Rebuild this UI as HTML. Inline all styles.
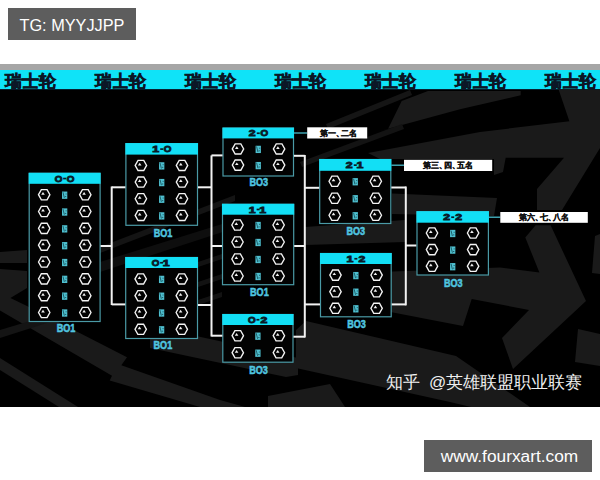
<!DOCTYPE html>
<html><head><meta charset="utf-8"><style>
html,body{margin:0;padding:0;background:#fff;width:600px;height:480px;overflow:hidden;position:relative;font-family:"Liberation Sans",sans-serif;}
.tg{position:absolute;left:8px;top:8px;width:128px;height:32px;background:#5d5d5d;color:#fff;font-size:16.3px;line-height:35px;text-align:center;white-space:nowrap;}
.wm{position:absolute;left:424px;top:440px;width:168px;height:32px;background:#5d5d5d;color:#fff;font-size:17.3px;line-height:32px;text-align:center;text-indent:3px;white-space:nowrap;}
.img{position:absolute;left:0;top:64px;width:600px;height:343.4px;background:#000;overflow:hidden;}
.strip{position:absolute;left:0;top:0;width:600px;height:6px;background:#a6a6a6;}
.band{position:absolute;left:0;top:6px;width:600px;height:19px;background:#0fe3f8;border-bottom:1px solid #062030;}
.band span{position:absolute;top:1px;font-size:16.5px;line-height:20px;font-weight:900;color:#0b1726;-webkit-text-stroke:0.6px #0b1726;white-space:nowrap;}
svg{position:absolute;left:0;top:0;}
.hd{font-family:"Liberation Sans",sans-serif;font-weight:bold;font-size:8.2px;fill:#0a1a28;stroke:#0a1a28;stroke-width:0.8px;}
.bo{font-family:"Liberation Sans",sans-serif;font-weight:bold;font-size:10.3px;fill:#50c6e0;stroke:#50c6e0;stroke-width:0.5px;}
.vs{font-family:"Liberation Sans",sans-serif;font-weight:bold;font-size:11px;fill:#3cc4dc;stroke:#3cc4dc;stroke-width:0.9px;}
.lb{font-weight:bold;font-size:8.2px;fill:#111;stroke:#111;stroke-width:0.25px;font-feature-settings:"palt";}
.zh{position:absolute;left:386px;top:371px;font-size:17px;color:#f0f0f0;white-space:nowrap;}
</style></head><body>
<div class="tg">TG: MYYJJPP</div>
<div class="img">
<div class="strip"></div>
<div class="band"><span style="left:5px">瑞士轮</span><span style="left:95px">瑞士轮</span><span style="left:185px">瑞士轮</span><span style="left:275px">瑞士轮</span><span style="left:365px">瑞士轮</span><span style="left:455px">瑞士轮</span><span style="left:545px">瑞士轮</span></div>
</div>
<svg width="600" height="480" viewBox="0 0 600 480">
<polygon points="0.0,358.0 78.0,407.0 59.0,407.0 0.0,370.0" fill="#1a1a1a"/>
<polygon points="0.0,269.0 27.0,271.0 27.0,288.0 10.4,298.0 27.0,306.0 127.0,357.2 121.3,365.3 220.0,400.0 245.0,407.0 200.0,407.0 109.7,380.5 112.0,375.8 0.0,310.5" fill="#1a1a1a"/>
<polygon points="0.0,252.0 27.0,250.0 27.0,263.0 0.0,263.0" fill="#1a1a1a"/>
<polygon points="150.0,326.0 298.0,358.0 298.0,375.0 286.0,377.0 150.0,348.0" fill="#1a1a1a"/>
<polygon points="268.0,396.0 330.0,384.0 345.0,407.0 268.0,407.0" fill="#1a1a1a"/>
<polygon points="306.0,321.0 456.0,356.0 530.0,407.0 471.0,407.0 450.0,402.0 296.0,368.0 296.0,330.0" fill="#1a1a1a"/>
<polygon points="595.0,236.0 600.0,234.0 600.0,274.0 592.0,273.0" fill="#1a1a1a"/>
<polygon points="578.0,329.0 600.0,334.0 600.0,366.0 575.0,362.0" fill="#1a1a1a"/>
<polygon points="380.0,272.0 500.0,267.5 539.4,272.5 525.3,237.5 535.6,225.3 550.6,225.3 586.0,301.0 513.0,369.0 502.0,338.0 529.0,310.0 471.7,299.0 463.0,326.0 380.0,310.0" fill="#1a1a1a"/>
<polygon points="305.0,227.0 405.0,220.0 405.0,242.0 305.0,245.0" fill="#1a1a1a"/>
<polygon points="392.0,193.5 497.0,198.0 494.0,216.0 392.0,214.0" fill="#1a1a1a"/>
<polygon points="368.0,153.0 480.0,132.0 569.4,121.2 558.6,89.5 600.0,89.5 600.0,148.0 562.0,210.0 537.0,210.0 537.0,189.0 564.0,157.8 505.7,157.8 503.0,172.0 494.0,175.0 494.0,159.0 380.0,159.0" fill="#1a1a1a"/>
<polygon points="401.7,101.0 428.0,91.0 520.7,91.0 520.7,95.3 460.0,109.3 380.0,131.0 388.0,129.0" fill="#1a1a1a"/>
<polygon points="198.0,300.0 222.0,292.0 222.0,297.0 198.0,305.0" fill="#121212"/>
<polygon points="198.0,282.0 222.0,274.0 222.0,279.0 198.0,287.0" fill="#121212"/>
<polygon points="198.0,262.0 222.0,254.0 222.0,259.0 198.0,267.0" fill="#121212"/>
<polygon points="0.0,330.0 100.0,300.0 100.0,306.0 0.0,338.0" fill="#141414"/>
<polygon points="100.0,262.0 235.0,220.0 235.0,228.0 100.0,272.0" fill="#0e0e0e"/>
<polygon points="100.0,247.0 235.0,195.0 235.0,201.0 100.0,253.0" fill="#141414"/>
<polygon points="300.0,162.0 402.0,124.0 404.0,129.0 302.0,167.0" fill="#131313"/>
<polygon points="326.0,124.0 410.0,90.0 412.0,95.0 328.0,129.0" fill="#151515"/>
<rect x="29.20" y="173.30" width="70.90" height="148.20" fill="#020202" stroke="#4a9aa6" stroke-width="1.2"/>
<rect x="28.70" y="172.80" width="71.90" height="11.00" fill="#12dff5"/>
<text x="58.65" y="181.70" class="hd" text-anchor="middle" transform="translate(58.65,0) scale(1.2,1) translate(-58.65,0)">O</text>
<text x="70.65" y="181.70" class="hd" text-anchor="middle" transform="translate(70.65,0) scale(1.2,1) translate(-70.65,0)">O</text>
<rect x="63.15" y="177.70" width="3" height="1.7" fill="#0a1a28"/>
<polygon points="38.50,194.70 41.35,189.60 47.05,189.60 49.90,194.70 47.05,199.80 41.35,199.80" fill="none" stroke="#f4f4f4" stroke-width="1.35"/><polygon points="41.20,194.70 43.00,192.00 44.80,194.70" fill="#f0f0f0"/>
<polygon points="79.60,194.70 82.45,189.60 88.15,189.60 91.00,194.70 88.15,199.80 82.45,199.80" fill="none" stroke="#f4f4f4" stroke-width="1.35"/><polygon points="82.30,194.70 84.10,192.00 85.90,194.70" fill="#f0f0f0"/>
<rect x="62.00" y="191.55" width="5.3" height="7.3" fill="#4fc0d0"/><path d="M62.95,192.20 L64.35,197.80 M66.65,194.00 H65.55 M64.95,196.60 H66.25" stroke="#124850" stroke-width="0.8" fill="none"/>
<polygon points="38.50,211.53 41.35,206.43 47.05,206.43 49.90,211.53 47.05,216.63 41.35,216.63" fill="none" stroke="#f4f4f4" stroke-width="1.35"/><polygon points="41.20,211.53 43.00,208.83 44.80,211.53" fill="#f0f0f0"/>
<polygon points="79.60,211.53 82.45,206.43 88.15,206.43 91.00,211.53 88.15,216.63 82.45,216.63" fill="none" stroke="#f4f4f4" stroke-width="1.35"/><polygon points="82.30,211.53 84.10,208.83 85.90,211.53" fill="#f0f0f0"/>
<rect x="62.00" y="208.38" width="5.3" height="7.3" fill="#4fc0d0"/><path d="M62.95,209.03 L64.35,214.63 M66.65,210.83 H65.55 M64.95,213.43 H66.25" stroke="#124850" stroke-width="0.8" fill="none"/>
<polygon points="38.50,228.36 41.35,223.26 47.05,223.26 49.90,228.36 47.05,233.46 41.35,233.46" fill="none" stroke="#f4f4f4" stroke-width="1.35"/><polygon points="41.20,228.36 43.00,225.66 44.80,228.36" fill="#f0f0f0"/>
<polygon points="79.60,228.36 82.45,223.26 88.15,223.26 91.00,228.36 88.15,233.46 82.45,233.46" fill="none" stroke="#f4f4f4" stroke-width="1.35"/><polygon points="82.30,228.36 84.10,225.66 85.90,228.36" fill="#f0f0f0"/>
<rect x="62.00" y="225.21" width="5.3" height="7.3" fill="#4fc0d0"/><path d="M62.95,225.86 L64.35,231.46 M66.65,227.66 H65.55 M64.95,230.26 H66.25" stroke="#124850" stroke-width="0.8" fill="none"/>
<polygon points="38.50,245.19 41.35,240.09 47.05,240.09 49.90,245.19 47.05,250.29 41.35,250.29" fill="none" stroke="#f4f4f4" stroke-width="1.35"/><polygon points="41.20,245.19 43.00,242.49 44.80,245.19" fill="#f0f0f0"/>
<polygon points="79.60,245.19 82.45,240.09 88.15,240.09 91.00,245.19 88.15,250.29 82.45,250.29" fill="none" stroke="#f4f4f4" stroke-width="1.35"/><polygon points="82.30,245.19 84.10,242.49 85.90,245.19" fill="#f0f0f0"/>
<rect x="62.00" y="242.04" width="5.3" height="7.3" fill="#4fc0d0"/><path d="M62.95,242.69 L64.35,248.29 M66.65,244.49 H65.55 M64.95,247.09 H66.25" stroke="#124850" stroke-width="0.8" fill="none"/>
<polygon points="38.50,262.02 41.35,256.92 47.05,256.92 49.90,262.02 47.05,267.12 41.35,267.12" fill="none" stroke="#f4f4f4" stroke-width="1.35"/><polygon points="41.20,262.02 43.00,259.32 44.80,262.02" fill="#f0f0f0"/>
<polygon points="79.60,262.02 82.45,256.92 88.15,256.92 91.00,262.02 88.15,267.12 82.45,267.12" fill="none" stroke="#f4f4f4" stroke-width="1.35"/><polygon points="82.30,262.02 84.10,259.32 85.90,262.02" fill="#f0f0f0"/>
<rect x="62.00" y="258.87" width="5.3" height="7.3" fill="#4fc0d0"/><path d="M62.95,259.52 L64.35,265.12 M66.65,261.32 H65.55 M64.95,263.92 H66.25" stroke="#124850" stroke-width="0.8" fill="none"/>
<polygon points="38.50,278.85 41.35,273.75 47.05,273.75 49.90,278.85 47.05,283.95 41.35,283.95" fill="none" stroke="#f4f4f4" stroke-width="1.35"/><polygon points="41.20,278.85 43.00,276.15 44.80,278.85" fill="#f0f0f0"/>
<polygon points="79.60,278.85 82.45,273.75 88.15,273.75 91.00,278.85 88.15,283.95 82.45,283.95" fill="none" stroke="#f4f4f4" stroke-width="1.35"/><polygon points="82.30,278.85 84.10,276.15 85.90,278.85" fill="#f0f0f0"/>
<rect x="62.00" y="275.70" width="5.3" height="7.3" fill="#4fc0d0"/><path d="M62.95,276.35 L64.35,281.95 M66.65,278.15 H65.55 M64.95,280.75 H66.25" stroke="#124850" stroke-width="0.8" fill="none"/>
<polygon points="38.50,295.68 41.35,290.58 47.05,290.58 49.90,295.68 47.05,300.78 41.35,300.78" fill="none" stroke="#f4f4f4" stroke-width="1.35"/><polygon points="41.20,295.68 43.00,292.98 44.80,295.68" fill="#f0f0f0"/>
<polygon points="79.60,295.68 82.45,290.58 88.15,290.58 91.00,295.68 88.15,300.78 82.45,300.78" fill="none" stroke="#f4f4f4" stroke-width="1.35"/><polygon points="82.30,295.68 84.10,292.98 85.90,295.68" fill="#f0f0f0"/>
<rect x="62.00" y="292.53" width="5.3" height="7.3" fill="#4fc0d0"/><path d="M62.95,293.18 L64.35,298.78 M66.65,294.98 H65.55 M64.95,297.58 H66.25" stroke="#124850" stroke-width="0.8" fill="none"/>
<polygon points="38.50,312.51 41.35,307.41 47.05,307.41 49.90,312.51 47.05,317.61 41.35,317.61" fill="none" stroke="#f4f4f4" stroke-width="1.35"/><polygon points="41.20,312.51 43.00,309.81 44.80,312.51" fill="#f0f0f0"/>
<polygon points="79.60,312.51 82.45,307.41 88.15,307.41 91.00,312.51 88.15,317.61 82.45,317.61" fill="none" stroke="#f4f4f4" stroke-width="1.35"/><polygon points="82.30,312.51 84.10,309.81 85.90,312.51" fill="#f0f0f0"/>
<rect x="62.00" y="309.36" width="5.3" height="7.3" fill="#4fc0d0"/><path d="M62.95,310.01 L64.35,315.61 M66.65,311.81 H65.55 M64.95,314.41 H66.25" stroke="#124850" stroke-width="0.8" fill="none"/>
<text x="65.95" y="332.30" class="bo" text-anchor="middle" transform="translate(65.95,0) scale(0.88,1) translate(-65.95,0)">BO1</text>
<rect x="125.90" y="143.60" width="71.60" height="81.70" fill="#020202" stroke="#4a9aa6" stroke-width="1.2"/>
<rect x="125.40" y="143.10" width="72.60" height="11.50" fill="#12dff5"/>
<text x="155.70" y="152.25" class="hd" text-anchor="middle" transform="translate(155.70,0) scale(1.5,1) translate(-155.70,0)">1</text>
<text x="167.70" y="152.25" class="hd" text-anchor="middle" transform="translate(167.70,0) scale(1.2,1) translate(-167.70,0)">O</text>
<rect x="160.20" y="148.25" width="3" height="1.7" fill="#0a1a28"/>
<polygon points="135.20,165.40 138.05,160.30 143.75,160.30 146.60,165.40 143.75,170.50 138.05,170.50" fill="none" stroke="#f4f4f4" stroke-width="1.35"/><polygon points="137.90,165.40 139.70,162.70 141.50,165.40" fill="#f0f0f0"/>
<polygon points="176.30,165.40 179.15,160.30 184.85,160.30 187.70,165.40 184.85,170.50 179.15,170.50" fill="none" stroke="#f4f4f4" stroke-width="1.35"/><polygon points="179.00,165.40 180.80,162.70 182.60,165.40" fill="#f0f0f0"/>
<rect x="159.05" y="162.25" width="5.3" height="7.3" fill="#4fc0d0"/><path d="M160.00,162.90 L161.40,168.50 M163.70,164.70 H162.60 M162.00,167.30 H163.30" stroke="#124850" stroke-width="0.8" fill="none"/>
<polygon points="135.20,182.07 138.05,176.97 143.75,176.97 146.60,182.07 143.75,187.17 138.05,187.17" fill="none" stroke="#f4f4f4" stroke-width="1.35"/><polygon points="137.90,182.07 139.70,179.37 141.50,182.07" fill="#f0f0f0"/>
<polygon points="176.30,182.07 179.15,176.97 184.85,176.97 187.70,182.07 184.85,187.17 179.15,187.17" fill="none" stroke="#f4f4f4" stroke-width="1.35"/><polygon points="179.00,182.07 180.80,179.37 182.60,182.07" fill="#f0f0f0"/>
<rect x="159.05" y="178.92" width="5.3" height="7.3" fill="#4fc0d0"/><path d="M160.00,179.57 L161.40,185.17 M163.70,181.37 H162.60 M162.00,183.97 H163.30" stroke="#124850" stroke-width="0.8" fill="none"/>
<polygon points="135.20,198.74 138.05,193.64 143.75,193.64 146.60,198.74 143.75,203.84 138.05,203.84" fill="none" stroke="#f4f4f4" stroke-width="1.35"/><polygon points="137.90,198.74 139.70,196.04 141.50,198.74" fill="#f0f0f0"/>
<polygon points="176.30,198.74 179.15,193.64 184.85,193.64 187.70,198.74 184.85,203.84 179.15,203.84" fill="none" stroke="#f4f4f4" stroke-width="1.35"/><polygon points="179.00,198.74 180.80,196.04 182.60,198.74" fill="#f0f0f0"/>
<rect x="159.05" y="195.59" width="5.3" height="7.3" fill="#4fc0d0"/><path d="M160.00,196.24 L161.40,201.84 M163.70,198.04 H162.60 M162.00,200.64 H163.30" stroke="#124850" stroke-width="0.8" fill="none"/>
<polygon points="135.20,215.41 138.05,210.31 143.75,210.31 146.60,215.41 143.75,220.51 138.05,220.51" fill="none" stroke="#f4f4f4" stroke-width="1.35"/><polygon points="137.90,215.41 139.70,212.71 141.50,215.41" fill="#f0f0f0"/>
<polygon points="176.30,215.41 179.15,210.31 184.85,210.31 187.70,215.41 184.85,220.51 179.15,220.51" fill="none" stroke="#f4f4f4" stroke-width="1.35"/><polygon points="179.00,215.41 180.80,212.71 182.60,215.41" fill="#f0f0f0"/>
<rect x="159.05" y="212.26" width="5.3" height="7.3" fill="#4fc0d0"/><path d="M160.00,212.91 L161.40,218.51 M163.70,214.71 H162.60 M162.00,217.31 H163.30" stroke="#124850" stroke-width="0.8" fill="none"/>
<text x="163.00" y="236.60" class="bo" text-anchor="middle" transform="translate(163.00,0) scale(0.88,1) translate(-163.00,0)">BO1</text>
<rect x="125.70" y="257.50" width="71.80" height="81.00" fill="#020202" stroke="#4a9aa6" stroke-width="1.2"/>
<rect x="125.20" y="257.00" width="72.80" height="11.00" fill="#12dff5"/>
<text x="155.60" y="265.90" class="hd" text-anchor="middle" transform="translate(155.60,0) scale(1.2,1) translate(-155.60,0)">O</text>
<text x="166.20" y="265.90" class="hd" text-anchor="middle" transform="translate(166.20,0) scale(1.5,1) translate(-166.20,0)">1</text>
<rect x="160.10" y="261.90" width="3" height="1.7" fill="#0a1a28"/>
<polygon points="135.00,278.90 137.85,273.80 143.55,273.80 146.40,278.90 143.55,284.00 137.85,284.00" fill="none" stroke="#f4f4f4" stroke-width="1.35"/><polygon points="137.70,278.90 139.50,276.20 141.30,278.90" fill="#f0f0f0"/>
<polygon points="176.10,278.90 178.95,273.80 184.65,273.80 187.50,278.90 184.65,284.00 178.95,284.00" fill="none" stroke="#f4f4f4" stroke-width="1.35"/><polygon points="178.80,278.90 180.60,276.20 182.40,278.90" fill="#f0f0f0"/>
<rect x="158.95" y="275.75" width="5.3" height="7.3" fill="#4fc0d0"/><path d="M159.90,276.40 L161.30,282.00 M163.60,278.20 H162.50 M161.90,280.80 H163.20" stroke="#124850" stroke-width="0.8" fill="none"/>
<polygon points="135.00,295.70 137.85,290.60 143.55,290.60 146.40,295.70 143.55,300.80 137.85,300.80" fill="none" stroke="#f4f4f4" stroke-width="1.35"/><polygon points="137.70,295.70 139.50,293.00 141.30,295.70" fill="#f0f0f0"/>
<polygon points="176.10,295.70 178.95,290.60 184.65,290.60 187.50,295.70 184.65,300.80 178.95,300.80" fill="none" stroke="#f4f4f4" stroke-width="1.35"/><polygon points="178.80,295.70 180.60,293.00 182.40,295.70" fill="#f0f0f0"/>
<rect x="158.95" y="292.55" width="5.3" height="7.3" fill="#4fc0d0"/><path d="M159.90,293.20 L161.30,298.80 M163.60,295.00 H162.50 M161.90,297.60 H163.20" stroke="#124850" stroke-width="0.8" fill="none"/>
<polygon points="135.00,312.50 137.85,307.40 143.55,307.40 146.40,312.50 143.55,317.60 137.85,317.60" fill="none" stroke="#f4f4f4" stroke-width="1.35"/><polygon points="137.70,312.50 139.50,309.80 141.30,312.50" fill="#f0f0f0"/>
<polygon points="176.10,312.50 178.95,307.40 184.65,307.40 187.50,312.50 184.65,317.60 178.95,317.60" fill="none" stroke="#f4f4f4" stroke-width="1.35"/><polygon points="178.80,312.50 180.60,309.80 182.40,312.50" fill="#f0f0f0"/>
<rect x="158.95" y="309.35" width="5.3" height="7.3" fill="#4fc0d0"/><path d="M159.90,310.00 L161.30,315.60 M163.60,311.80 H162.50 M161.90,314.40 H163.20" stroke="#124850" stroke-width="0.8" fill="none"/>
<polygon points="135.00,329.30 137.85,324.20 143.55,324.20 146.40,329.30 143.55,334.40 137.85,334.40" fill="none" stroke="#f4f4f4" stroke-width="1.35"/><polygon points="137.70,329.30 139.50,326.60 141.30,329.30" fill="#f0f0f0"/>
<polygon points="176.10,329.30 178.95,324.20 184.65,324.20 187.50,329.30 184.65,334.40 178.95,334.40" fill="none" stroke="#f4f4f4" stroke-width="1.35"/><polygon points="178.80,329.30 180.60,326.60 182.40,329.30" fill="#f0f0f0"/>
<rect x="158.95" y="326.15" width="5.3" height="7.3" fill="#4fc0d0"/><path d="M159.90,326.80 L161.30,332.40 M163.60,328.60 H162.50 M161.90,331.20 H163.20" stroke="#124850" stroke-width="0.8" fill="none"/>
<text x="162.90" y="348.60" class="bo" text-anchor="middle" transform="translate(162.90,0) scale(0.88,1) translate(-162.90,0)">BO1</text>
<rect x="223.00" y="128.10" width="70.50" height="47.90" fill="#020202" stroke="#4a9aa6" stroke-width="1.2"/>
<rect x="222.50" y="127.60" width="71.50" height="10.80" fill="#12dff5"/>
<text x="252.25" y="136.40" class="hd" text-anchor="middle" transform="translate(252.25,0) scale(1.5,1) translate(-252.25,0)">2</text>
<text x="264.25" y="136.40" class="hd" text-anchor="middle" transform="translate(264.25,0) scale(1.2,1) translate(-264.25,0)">O</text>
<rect x="256.75" y="132.40" width="3" height="1.7" fill="#0a1a28"/>
<polygon points="232.30,148.90 235.15,143.80 240.85,143.80 243.70,148.90 240.85,154.00 235.15,154.00" fill="none" stroke="#f4f4f4" stroke-width="1.35"/><polygon points="235.00,148.90 236.80,146.20 238.60,148.90" fill="#f0f0f0"/>
<polygon points="273.40,148.90 276.25,143.80 281.95,143.80 284.80,148.90 281.95,154.00 276.25,154.00" fill="none" stroke="#f4f4f4" stroke-width="1.35"/><polygon points="276.10,148.90 277.90,146.20 279.70,148.90" fill="#f0f0f0"/>
<rect x="255.60" y="145.75" width="5.3" height="7.3" fill="#4fc0d0"/><path d="M256.55,146.40 L257.95,152.00 M260.25,148.20 H259.15 M258.55,150.80 H259.85" stroke="#124850" stroke-width="0.8" fill="none"/>
<polygon points="232.30,165.10 235.15,160.00 240.85,160.00 243.70,165.10 240.85,170.20 235.15,170.20" fill="none" stroke="#f4f4f4" stroke-width="1.35"/><polygon points="235.00,165.10 236.80,162.40 238.60,165.10" fill="#f0f0f0"/>
<polygon points="273.40,165.10 276.25,160.00 281.95,160.00 284.80,165.10 281.95,170.20 276.25,170.20" fill="none" stroke="#f4f4f4" stroke-width="1.35"/><polygon points="276.10,165.10 277.90,162.40 279.70,165.10" fill="#f0f0f0"/>
<rect x="255.60" y="161.95" width="5.3" height="7.3" fill="#4fc0d0"/><path d="M256.55,162.60 L257.95,168.20 M260.25,164.40 H259.15 M258.55,167.00 H259.85" stroke="#124850" stroke-width="0.8" fill="none"/>
<text x="258.85" y="186.10" class="bo" text-anchor="middle" transform="translate(258.85,0) scale(0.88,1) translate(-258.85,0)">BO3</text>
<rect x="222.50" y="204.30" width="71.20" height="80.40" fill="#020202" stroke="#4a9aa6" stroke-width="1.2"/>
<rect x="222.00" y="203.80" width="72.20" height="10.90" fill="#12dff5"/>
<text x="252.10" y="212.65" class="hd" text-anchor="middle" transform="translate(252.10,0) scale(1.5,1) translate(-252.10,0)">1</text>
<text x="262.70" y="212.65" class="hd" text-anchor="middle" transform="translate(262.70,0) scale(1.5,1) translate(-262.70,0)">1</text>
<rect x="256.60" y="208.65" width="3" height="1.7" fill="#0a1a28"/>
<polygon points="231.80,225.00 234.65,219.90 240.35,219.90 243.20,225.00 240.35,230.10 234.65,230.10" fill="none" stroke="#f4f4f4" stroke-width="1.35"/><polygon points="234.50,225.00 236.30,222.30 238.10,225.00" fill="#f0f0f0"/>
<polygon points="272.90,225.00 275.75,219.90 281.45,219.90 284.30,225.00 281.45,230.10 275.75,230.10" fill="none" stroke="#f4f4f4" stroke-width="1.35"/><polygon points="275.60,225.00 277.40,222.30 279.20,225.00" fill="#f0f0f0"/>
<rect x="255.45" y="221.85" width="5.3" height="7.3" fill="#4fc0d0"/><path d="M256.40,222.50 L257.80,228.10 M260.10,224.30 H259.00 M258.40,226.90 H259.70" stroke="#124850" stroke-width="0.8" fill="none"/>
<polygon points="231.80,242.00 234.65,236.90 240.35,236.90 243.20,242.00 240.35,247.10 234.65,247.10" fill="none" stroke="#f4f4f4" stroke-width="1.35"/><polygon points="234.50,242.00 236.30,239.30 238.10,242.00" fill="#f0f0f0"/>
<polygon points="272.90,242.00 275.75,236.90 281.45,236.90 284.30,242.00 281.45,247.10 275.75,247.10" fill="none" stroke="#f4f4f4" stroke-width="1.35"/><polygon points="275.60,242.00 277.40,239.30 279.20,242.00" fill="#f0f0f0"/>
<rect x="255.45" y="238.85" width="5.3" height="7.3" fill="#4fc0d0"/><path d="M256.40,239.50 L257.80,245.10 M260.10,241.30 H259.00 M258.40,243.90 H259.70" stroke="#124850" stroke-width="0.8" fill="none"/>
<polygon points="231.80,259.00 234.65,253.90 240.35,253.90 243.20,259.00 240.35,264.10 234.65,264.10" fill="none" stroke="#f4f4f4" stroke-width="1.35"/><polygon points="234.50,259.00 236.30,256.30 238.10,259.00" fill="#f0f0f0"/>
<polygon points="272.90,259.00 275.75,253.90 281.45,253.90 284.30,259.00 281.45,264.10 275.75,264.10" fill="none" stroke="#f4f4f4" stroke-width="1.35"/><polygon points="275.60,259.00 277.40,256.30 279.20,259.00" fill="#f0f0f0"/>
<rect x="255.45" y="255.85" width="5.3" height="7.3" fill="#4fc0d0"/><path d="M256.40,256.50 L257.80,262.10 M260.10,258.30 H259.00 M258.40,260.90 H259.70" stroke="#124850" stroke-width="0.8" fill="none"/>
<polygon points="231.80,276.00 234.65,270.90 240.35,270.90 243.20,276.00 240.35,281.10 234.65,281.10" fill="none" stroke="#f4f4f4" stroke-width="1.35"/><polygon points="234.50,276.00 236.30,273.30 238.10,276.00" fill="#f0f0f0"/>
<polygon points="272.90,276.00 275.75,270.90 281.45,270.90 284.30,276.00 281.45,281.10 275.75,281.10" fill="none" stroke="#f4f4f4" stroke-width="1.35"/><polygon points="275.60,276.00 277.40,273.30 279.20,276.00" fill="#f0f0f0"/>
<rect x="255.45" y="272.85" width="5.3" height="7.3" fill="#4fc0d0"/><path d="M256.40,273.50 L257.80,279.10 M260.10,275.30 H259.00 M258.40,277.90 H259.70" stroke="#124850" stroke-width="0.8" fill="none"/>
<text x="259.40" y="296.40" class="bo" text-anchor="middle" transform="translate(259.40,0) scale(0.88,1) translate(-259.40,0)">BO1</text>
<rect x="222.80" y="314.50" width="70.20" height="47.70" fill="#020202" stroke="#4a9aa6" stroke-width="1.2"/>
<rect x="222.30" y="314.00" width="71.20" height="11.00" fill="#12dff5"/>
<text x="251.90" y="322.90" class="hd" text-anchor="middle" transform="translate(251.90,0) scale(1.2,1) translate(-251.90,0)">O</text>
<text x="263.90" y="322.90" class="hd" text-anchor="middle" transform="translate(263.90,0) scale(1.5,1) translate(-263.90,0)">2</text>
<rect x="256.40" y="318.90" width="3" height="1.7" fill="#0a1a28"/>
<polygon points="232.10,335.70 234.95,330.60 240.65,330.60 243.50,335.70 240.65,340.80 234.95,340.80" fill="none" stroke="#f4f4f4" stroke-width="1.35"/><polygon points="234.80,335.70 236.60,333.00 238.40,335.70" fill="#f0f0f0"/>
<polygon points="273.20,335.70 276.05,330.60 281.75,330.60 284.60,335.70 281.75,340.80 276.05,340.80" fill="none" stroke="#f4f4f4" stroke-width="1.35"/><polygon points="275.90,335.70 277.70,333.00 279.50,335.70" fill="#f0f0f0"/>
<rect x="255.25" y="332.55" width="5.3" height="7.3" fill="#4fc0d0"/><path d="M256.20,333.20 L257.60,338.80 M259.90,335.00 H258.80 M258.20,337.60 H259.50" stroke="#124850" stroke-width="0.8" fill="none"/>
<polygon points="232.10,352.70 234.95,347.60 240.65,347.60 243.50,352.70 240.65,357.80 234.95,357.80" fill="none" stroke="#f4f4f4" stroke-width="1.35"/><polygon points="234.80,352.70 236.60,350.00 238.40,352.70" fill="#f0f0f0"/>
<polygon points="273.20,352.70 276.05,347.60 281.75,347.60 284.60,352.70 281.75,357.80 276.05,357.80" fill="none" stroke="#f4f4f4" stroke-width="1.35"/><polygon points="275.90,352.70 277.70,350.00 279.50,352.70" fill="#f0f0f0"/>
<rect x="255.25" y="349.55" width="5.3" height="7.3" fill="#4fc0d0"/><path d="M256.20,350.20 L257.60,355.80 M259.90,352.00 H258.80 M258.20,354.60 H259.50" stroke="#124850" stroke-width="0.8" fill="none"/>
<text x="258.50" y="373.60" class="bo" text-anchor="middle" transform="translate(258.50,0) scale(0.88,1) translate(-258.50,0)">BO3</text>
<rect x="319.70" y="159.50" width="71.10" height="64.00" fill="#020202" stroke="#4a9aa6" stroke-width="1.2"/>
<rect x="319.20" y="159.00" width="72.10" height="11.80" fill="#12dff5"/>
<text x="349.25" y="168.30" class="hd" text-anchor="middle" transform="translate(349.25,0) scale(1.5,1) translate(-349.25,0)">2</text>
<text x="359.85" y="168.30" class="hd" text-anchor="middle" transform="translate(359.85,0) scale(1.5,1) translate(-359.85,0)">1</text>
<rect x="353.75" y="164.30" width="3" height="1.7" fill="#0a1a28"/>
<polygon points="329.00,181.25 331.85,176.15 337.55,176.15 340.40,181.25 337.55,186.35 331.85,186.35" fill="none" stroke="#f4f4f4" stroke-width="1.35"/><polygon points="331.70,181.25 333.50,178.55 335.30,181.25" fill="#f0f0f0"/>
<polygon points="370.10,181.25 372.95,176.15 378.65,176.15 381.50,181.25 378.65,186.35 372.95,186.35" fill="none" stroke="#f4f4f4" stroke-width="1.35"/><polygon points="372.80,181.25 374.60,178.55 376.40,181.25" fill="#f0f0f0"/>
<rect x="352.60" y="178.10" width="5.3" height="7.3" fill="#4fc0d0"/><path d="M353.55,178.75 L354.95,184.35 M357.25,180.55 H356.15 M355.55,183.15 H356.85" stroke="#124850" stroke-width="0.8" fill="none"/>
<polygon points="329.00,198.25 331.85,193.15 337.55,193.15 340.40,198.25 337.55,203.35 331.85,203.35" fill="none" stroke="#f4f4f4" stroke-width="1.35"/><polygon points="331.70,198.25 333.50,195.55 335.30,198.25" fill="#f0f0f0"/>
<polygon points="370.10,198.25 372.95,193.15 378.65,193.15 381.50,198.25 378.65,203.35 372.95,203.35" fill="none" stroke="#f4f4f4" stroke-width="1.35"/><polygon points="372.80,198.25 374.60,195.55 376.40,198.25" fill="#f0f0f0"/>
<rect x="352.60" y="195.10" width="5.3" height="7.3" fill="#4fc0d0"/><path d="M353.55,195.75 L354.95,201.35 M357.25,197.55 H356.15 M355.55,200.15 H356.85" stroke="#124850" stroke-width="0.8" fill="none"/>
<polygon points="329.00,215.25 331.85,210.15 337.55,210.15 340.40,215.25 337.55,220.35 331.85,220.35" fill="none" stroke="#f4f4f4" stroke-width="1.35"/><polygon points="331.70,215.25 333.50,212.55 335.30,215.25" fill="#f0f0f0"/>
<polygon points="370.10,215.25 372.95,210.15 378.65,210.15 381.50,215.25 378.65,220.35 372.95,220.35" fill="none" stroke="#f4f4f4" stroke-width="1.35"/><polygon points="372.80,215.25 374.60,212.55 376.40,215.25" fill="#f0f0f0"/>
<rect x="352.60" y="212.10" width="5.3" height="7.3" fill="#4fc0d0"/><path d="M353.55,212.75 L354.95,218.35 M357.25,214.55 H356.15 M355.55,217.15 H356.85" stroke="#124850" stroke-width="0.8" fill="none"/>
<text x="355.85" y="235.30" class="bo" text-anchor="middle" transform="translate(355.85,0) scale(0.88,1) translate(-355.85,0)">BO3</text>
<rect x="320.50" y="253.50" width="70.70" height="63.30" fill="#020202" stroke="#4a9aa6" stroke-width="1.2"/>
<rect x="320.00" y="253.00" width="71.70" height="11.00" fill="#12dff5"/>
<text x="349.85" y="261.90" class="hd" text-anchor="middle" transform="translate(349.85,0) scale(1.5,1) translate(-349.85,0)">1</text>
<text x="361.85" y="261.90" class="hd" text-anchor="middle" transform="translate(361.85,0) scale(1.5,1) translate(-361.85,0)">2</text>
<rect x="354.35" y="257.90" width="3" height="1.7" fill="#0a1a28"/>
<polygon points="329.80,275.10 332.65,270.00 338.35,270.00 341.20,275.10 338.35,280.20 332.65,280.20" fill="none" stroke="#f4f4f4" stroke-width="1.35"/><polygon points="332.50,275.10 334.30,272.40 336.10,275.10" fill="#f0f0f0"/>
<polygon points="370.90,275.10 373.75,270.00 379.45,270.00 382.30,275.10 379.45,280.20 373.75,280.20" fill="none" stroke="#f4f4f4" stroke-width="1.35"/><polygon points="373.60,275.10 375.40,272.40 377.20,275.10" fill="#f0f0f0"/>
<rect x="353.20" y="271.95" width="5.3" height="7.3" fill="#4fc0d0"/><path d="M354.15,272.60 L355.55,278.20 M357.85,274.40 H356.75 M356.15,277.00 H357.45" stroke="#124850" stroke-width="0.8" fill="none"/>
<polygon points="329.80,291.70 332.65,286.60 338.35,286.60 341.20,291.70 338.35,296.80 332.65,296.80" fill="none" stroke="#f4f4f4" stroke-width="1.35"/><polygon points="332.50,291.70 334.30,289.00 336.10,291.70" fill="#f0f0f0"/>
<polygon points="370.90,291.70 373.75,286.60 379.45,286.60 382.30,291.70 379.45,296.80 373.75,296.80" fill="none" stroke="#f4f4f4" stroke-width="1.35"/><polygon points="373.60,291.70 375.40,289.00 377.20,291.70" fill="#f0f0f0"/>
<rect x="353.20" y="288.55" width="5.3" height="7.3" fill="#4fc0d0"/><path d="M354.15,289.20 L355.55,294.80 M357.85,291.00 H356.75 M356.15,293.60 H357.45" stroke="#124850" stroke-width="0.8" fill="none"/>
<polygon points="329.80,308.30 332.65,303.20 338.35,303.20 341.20,308.30 338.35,313.40 332.65,313.40" fill="none" stroke="#f4f4f4" stroke-width="1.35"/><polygon points="332.50,308.30 334.30,305.60 336.10,308.30" fill="#f0f0f0"/>
<polygon points="370.90,308.30 373.75,303.20 379.45,303.20 382.30,308.30 379.45,313.40 373.75,313.40" fill="none" stroke="#f4f4f4" stroke-width="1.35"/><polygon points="373.60,308.30 375.40,305.60 377.20,308.30" fill="#f0f0f0"/>
<rect x="353.20" y="305.15" width="5.3" height="7.3" fill="#4fc0d0"/><path d="M354.15,305.80 L355.55,311.40 M357.85,307.60 H356.75 M356.15,310.20 H357.45" stroke="#124850" stroke-width="0.8" fill="none"/>
<text x="356.45" y="327.90" class="bo" text-anchor="middle" transform="translate(356.45,0) scale(0.88,1) translate(-356.45,0)">BO3</text>
<rect x="417.00" y="211.70" width="71.40" height="63.30" fill="#020202" stroke="#4a9aa6" stroke-width="1.2"/>
<rect x="416.50" y="211.20" width="72.40" height="11.50" fill="#12dff5"/>
<text x="446.70" y="220.35" class="hd" text-anchor="middle" transform="translate(446.70,0) scale(1.5,1) translate(-446.70,0)">2</text>
<text x="458.70" y="220.35" class="hd" text-anchor="middle" transform="translate(458.70,0) scale(1.5,1) translate(-458.70,0)">2</text>
<rect x="451.20" y="216.35" width="3" height="1.7" fill="#0a1a28"/>
<polygon points="426.30,233.00 429.15,227.90 434.85,227.90 437.70,233.00 434.85,238.10 429.15,238.10" fill="none" stroke="#f4f4f4" stroke-width="1.35"/><polygon points="429.00,233.00 430.80,230.30 432.60,233.00" fill="#f0f0f0"/>
<polygon points="467.40,233.00 470.25,227.90 475.95,227.90 478.80,233.00 475.95,238.10 470.25,238.10" fill="none" stroke="#f4f4f4" stroke-width="1.35"/><polygon points="470.10,233.00 471.90,230.30 473.70,233.00" fill="#f0f0f0"/>
<rect x="450.05" y="229.85" width="5.3" height="7.3" fill="#4fc0d0"/><path d="M451.00,230.50 L452.40,236.10 M454.70,232.30 H453.60 M453.00,234.90 H454.30" stroke="#124850" stroke-width="0.8" fill="none"/>
<polygon points="426.30,249.60 429.15,244.50 434.85,244.50 437.70,249.60 434.85,254.70 429.15,254.70" fill="none" stroke="#f4f4f4" stroke-width="1.35"/><polygon points="429.00,249.60 430.80,246.90 432.60,249.60" fill="#f0f0f0"/>
<polygon points="467.40,249.60 470.25,244.50 475.95,244.50 478.80,249.60 475.95,254.70 470.25,254.70" fill="none" stroke="#f4f4f4" stroke-width="1.35"/><polygon points="470.10,249.60 471.90,246.90 473.70,249.60" fill="#f0f0f0"/>
<rect x="450.05" y="246.45" width="5.3" height="7.3" fill="#4fc0d0"/><path d="M451.00,247.10 L452.40,252.70 M454.70,248.90 H453.60 M453.00,251.50 H454.30" stroke="#124850" stroke-width="0.8" fill="none"/>
<polygon points="426.30,266.20 429.15,261.10 434.85,261.10 437.70,266.20 434.85,271.30 429.15,271.30" fill="none" stroke="#f4f4f4" stroke-width="1.35"/><polygon points="429.00,266.20 430.80,263.50 432.60,266.20" fill="#f0f0f0"/>
<polygon points="467.40,266.20 470.25,261.10 475.95,261.10 478.80,266.20 475.95,271.30 470.25,271.30" fill="none" stroke="#f4f4f4" stroke-width="1.35"/><polygon points="470.10,266.20 471.90,263.50 473.70,266.20" fill="#f0f0f0"/>
<rect x="450.05" y="263.05" width="5.3" height="7.3" fill="#4fc0d0"/><path d="M451.00,263.70 L452.40,269.30 M454.70,265.50 H453.60 M453.00,268.10 H454.30" stroke="#124850" stroke-width="0.8" fill="none"/>
<text x="453.30" y="286.60" class="bo" text-anchor="middle" transform="translate(453.30,0) scale(0.88,1) translate(-453.30,0)">BO3</text>
<path d="M100.6,246 H111.7" stroke="#f2f2f2" stroke-width="2" fill="none"/>
<path d="M111.7,186.5 V305" stroke="#f2f2f2" stroke-width="2" fill="none"/>
<path d="M111.7,187.3 H125.4" stroke="#f2f2f2" stroke-width="2" fill="none"/>
<path d="M111.7,304.4 H125.2" stroke="#f2f2f2" stroke-width="2" fill="none"/>
<path d="M198,187.3 H211.5" stroke="#f2f2f2" stroke-width="2" fill="none"/>
<path d="M198,305 H211.5" stroke="#f2f2f2" stroke-width="2" fill="none"/>
<path d="M211.5,155.4 V336.5" stroke="#f2f2f2" stroke-width="2" fill="none"/>
<path d="M211.5,155.4 H222.5" stroke="#f2f2f2" stroke-width="2" fill="none"/>
<path d="M211.5,246 H222" stroke="#f2f2f2" stroke-width="2" fill="none"/>
<path d="M211.5,335.7 H222.3" stroke="#f2f2f2" stroke-width="2" fill="none"/>
<path d="M294,155.8 H304.8" stroke="#f2f2f2" stroke-width="2" fill="none"/>
<path d="M294.2,246 H304.8" stroke="#f2f2f2" stroke-width="2" fill="none"/>
<path d="M293.5,336.7 H304.8" stroke="#f2f2f2" stroke-width="2" fill="none"/>
<path d="M304.8,155 V337.5" stroke="#f2f2f2" stroke-width="2" fill="none"/>
<path d="M304.8,187.8 H319.2" stroke="#f2f2f2" stroke-width="2" fill="none"/>
<path d="M304.8,304.4 H320" stroke="#f2f2f2" stroke-width="2" fill="none"/>
<path d="M391.3,187.5 H405.8" stroke="#f2f2f2" stroke-width="2" fill="none"/>
<path d="M391.7,304.4 H405.8" stroke="#f2f2f2" stroke-width="2" fill="none"/>
<path d="M405.8,186.5 V305.4" stroke="#f2f2f2" stroke-width="2" fill="none"/>
<path d="M405.8,245.5 H416.3" stroke="#f2f2f2" stroke-width="2" fill="none"/>
<path d="M294,133 H307.1" stroke="#48bccb" stroke-width="1.3"/>
<path d="M391.3,165.2 H404" stroke="#48bccb" stroke-width="1.3"/>
<path d="M489,217.2 H500.3" stroke="#48bccb" stroke-width="1.3"/>
<rect x="307.20" y="127.30" width="60.00" height="11.20" fill="#ffffff"/>
<text x="338.70" y="135.90" class="lb" text-anchor="middle">第一、<tspan dx="-3.0">二名</tspan></text>
<rect x="404.00" y="159.80" width="88.20" height="11.20" fill="#ffffff"/>
<text x="448.10" y="168.40" class="lb" text-anchor="middle">第三、<tspan dx="-3.0">四</tspan>、<tspan dx="-3.0">五名</tspan></text>
<rect x="500.30" y="212.00" width="87.50" height="10.80" fill="#ffffff"/>
<text x="544.05" y="220.40" class="lb" text-anchor="middle">第六、<tspan dx="-3.0">七</tspan>、<tspan dx="-3.0">八名</tspan></text>
</svg>
<div class="zh">知乎<span style="display:inline-block;width:9px"></span>@英雄联盟职业联赛</div>
<div class="wm">www.fourxart.com</div>
</body></html>
